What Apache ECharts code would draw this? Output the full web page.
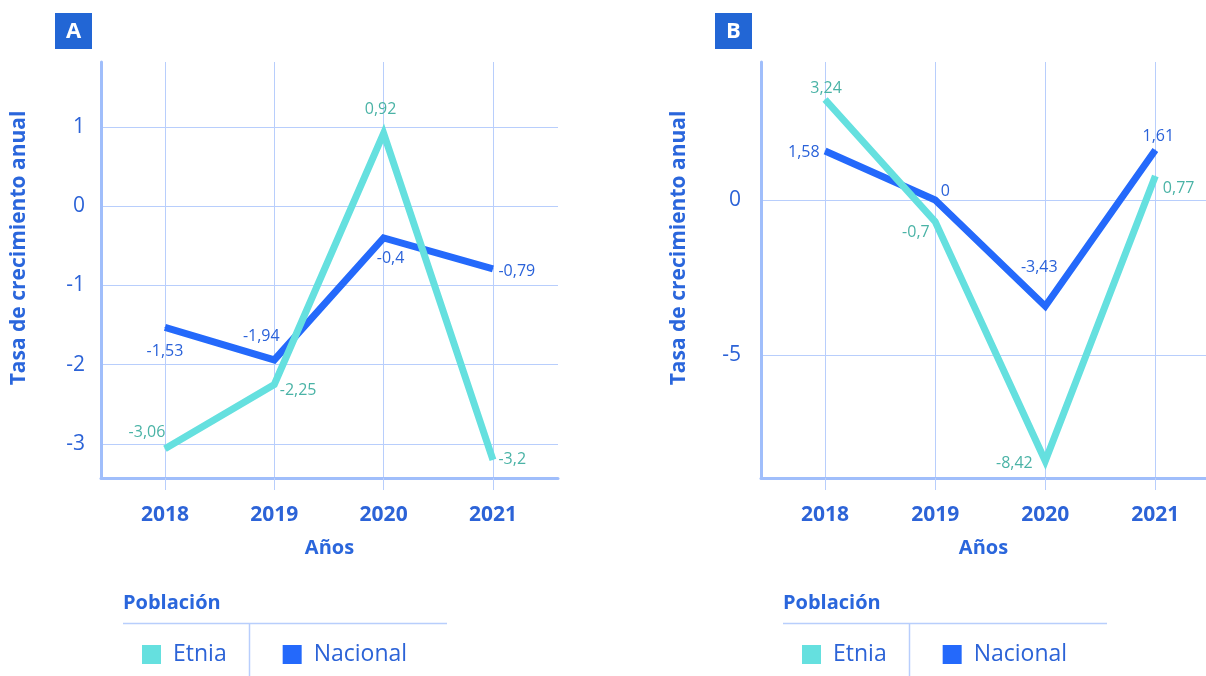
<!DOCTYPE html>
<html><head><meta charset="utf-8">
<script src="https://cdn.jsdelivr.net/npm/echarts@6/dist/echarts.min.js"></script>
<style>html,body{margin:0;padding:0;background:#fff}#c{width:1206px;height:676px}</style>
</head><body><div id="c"></div>
<script>
// ---- data ----
const years = [2018, 2019, 2020, 2021];
const etniaA = [-3.06, -2.25, 0.92, -3.2];
const nacionalA = [-1.53, -1.94, -0.4, -0.79];
const etniaB = [3.24, -0.7, -8.42, 0.77];
const nacionalB = [1.58, 0, -3.43, 1.61];
const yTicksA = [-3, -2, -1, 0, 1];
const yTicksB = [-5, 0];
const seriesNames = ['Etnia', 'Nacional'];
const panelLabels = ['A', 'B'];
const yTitle = 'Tasa de crecimiento anual';
const xTitle = 'Años';
const legendTitle = 'Población';

// ---- styling ----
const FONT = 'Open Sans';
const axisText = '#2c63d7';
const titleBlue = '#2a66dc';
const gridColor = '#b8cefc';
const axisLineColor = '#a0befb';
const etniaColor = '#65e0df';
const nacionalColor = '#2469fb';
const etniaLabel = '#4ab3a6';
const nacionalLabel = '#2a62d9';
const boxColor = '#2266d5';

// label placement per point: [position, offset]
const lblEtniaA = [['top',[-18,-3]],['right',[0,6]],['top',[-3,-10]],['right',[0,0]]];
const lblNacA = [['bottom',[0,10]],['top',[-13,-10]],['bottom',[7,7]],['right',[0,3]]];
const lblEtniaB = [['top',[1,2]],['left',[0,11]],['left',[-7,2]],['right',[2,12]]];
const lblNacB = [['left',[0,1]],['right',[0,-9]],['top',[-6,-25]],['top',[3,0]]];

const fmt = v => String(v).replace('.', ',');

function makeData(vals, lbls) {
  return years.map((y, i) => ({
    value: [y, vals[i]],
    label: { position: lbls[i][0], offset: lbls[i][1] }
  }));
}

function makeSeries(name, vals, lbls, lineColor, labelColor, idx, z) {
  return {
    name: name, type: 'line', xAxisIndex: idx, yAxisIndex: idx, z: z,
    data: makeData(vals, lbls),
    symbol: 'circle', symbolSize: 1,
    itemStyle: { color: lineColor },
    lineStyle: { color: lineColor, width: 7, cap: 'butt', join: 'miter' },
    label: { show: true, formatter: p => fmt(p.value[1]), color: labelColor,
             fontSize: 16, fontFamily: FONT, distance: 5 },
    emphasis: { disabled: true },
    animation: false
  };
}

function xAxis(idx, min, max) {
  return {
    gridIndex: idx, type: 'value', min: min, max: max,
    axisLine: { show: true, onZero: false, lineStyle: { color: axisLineColor, width: 3 } },
    axisTick: { show: true, customValues: years, length: 12, lineStyle: { color: gridColor, width: 1 } },
    axisLabel: { customValues: years, margin: 27, formatter: v => String(v),
                 color: axisText, fontSize: 21, fontWeight: 'bold', fontFamily: FONT },
    splitLine: { show: true, lineStyle: { color: gridColor, width: 1 } },
    name: xTitle, nameLocation: 'middle', nameGap: 60,
    nameTextStyle: { color: titleBlue, fontSize: 20, fontWeight: 'bold', fontFamily: FONT }
  };
}

function yAxis(idx, min, max, ticks, margin) {
  return {
    gridIndex: idx, type: 'value', min: min, max: max,
    axisLine: { show: true, onZero: false, lineStyle: { color: axisLineColor, width: 3 } },
    axisTick: { show: false, customValues: ticks },
    axisLabel: { customValues: ticks, margin: margin, color: axisText, fontSize: 21, fontFamily: FONT },
    splitLine: { show: true, lineStyle: { color: gridColor, width: 1 } }
  };
}

function legend(left) {
  return {
    left: left, top: 638, orient: 'horizontal', icon: 'rect',
    itemWidth: 19, itemHeight: 19, itemGap: 56,
    data: seriesNames, selectedMode: false,
    textStyle: { color: axisText, fontSize: 23, fontFamily: FONT, padding: [0, 0, 0, 7] }
  };
}

function panelGraphics(dx, letter) {
  return [
    { type: 'rect', shape: { x: 55 + dx, y: 13, width: 37, height: 36 }, style: { fill: boxColor } },
    { type: 'text', x: 73.5 + dx, y: 31.5, style: { text: letter, fill: '#fff', font: 'bold 22px "' + FONT + '"', align: 'center', verticalAlign: 'middle' } },
    { type: 'text', x: 19 + dx, y: 248, rotation: Math.PI / 2, style: { text: yTitle, fill: titleBlue, font: 'bold 21px "' + FONT + '"', align: 'center', verticalAlign: 'middle' } },
    { type: 'text', x: 123 + dx, y: 603, style: { text: legendTitle, fill: titleBlue, font: 'bold 20px "' + FONT + '"', align: 'left', verticalAlign: 'middle' } },
    { type: 'line', shape: { x1: 123 + dx, y1: 623.5, x2: 447 + dx, y2: 623.5 }, style: { stroke: gridColor, lineWidth: 1.5 } },
    { type: 'line', shape: { x1: 249.5 + dx, y1: 624, x2: 249.5 + dx, y2: 676 }, style: { stroke: gridColor, lineWidth: 1.5 } }
  ];
}

const chart = echarts.init(document.getElementById('c'), null, { renderer: 'canvas' });
chart.setOption({
  backgroundColor: '#ffffff',
  animation: false,
  grid: [
    { left: 101, top: 62, width: 457, height: 416 },
    { left: 761, top: 62, width: 445, height: 416 }
  ],
  xAxis: [xAxis(0, 2017.415, 2021.595), xAxis(1, 2017.418, 2021.46)],
  yAxis: [yAxis(0, -3.43, 1.82, yTicksA, 16), yAxis(1, -8.97, 4.45, yTicksB, 20)],
  legend: [legend(137), legend(797)],
  graphic: panelGraphics(0, panelLabels[0]).concat(panelGraphics(660, panelLabels[1])),
  series: [
    makeSeries(seriesNames[0], etniaA, lblEtniaA, etniaColor, etniaLabel, 0, 3),
    makeSeries(seriesNames[1], nacionalA, lblNacA, nacionalColor, nacionalLabel, 0, 2),
    makeSeries(seriesNames[0], etniaB, lblEtniaB, etniaColor, etniaLabel, 1, 3),
    makeSeries(seriesNames[1], nacionalB, lblNacB, nacionalColor, nacionalLabel, 1, 2)
  ]
});
</script></body></html>
